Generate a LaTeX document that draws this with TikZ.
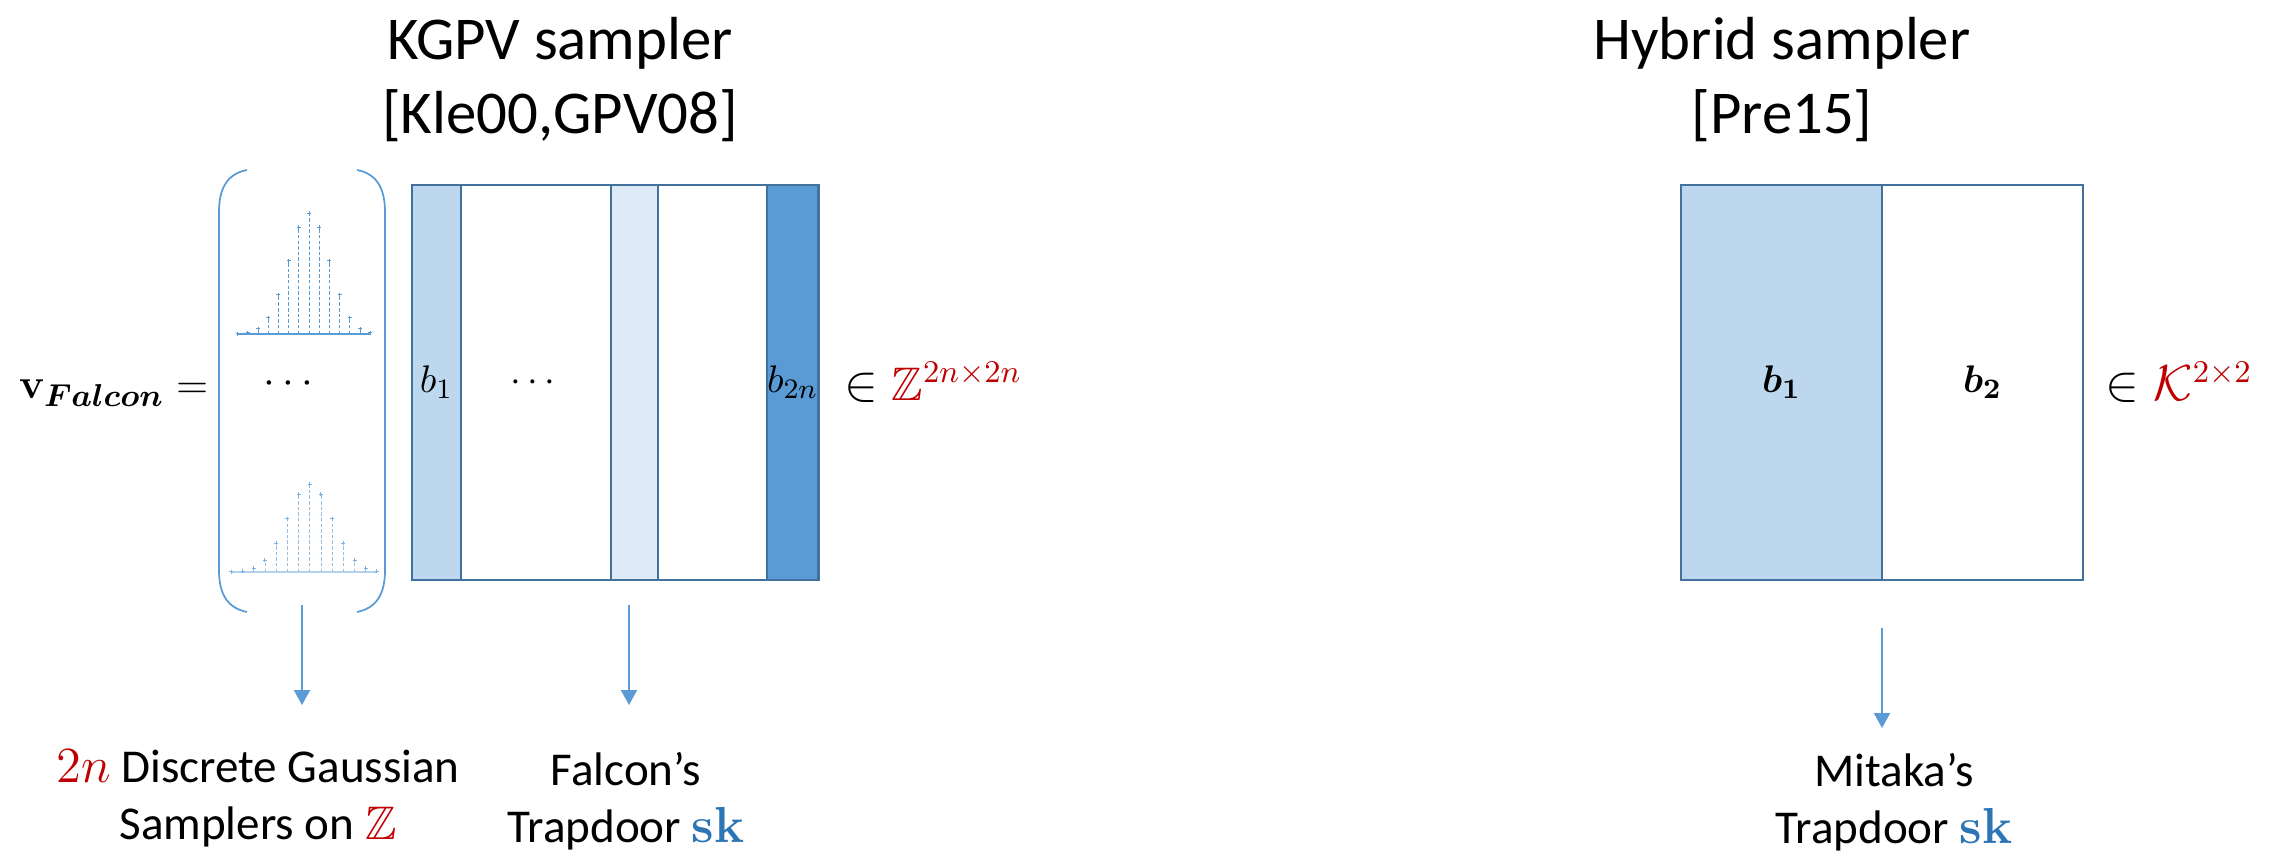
\documentclass[tikz,border=0pt]{standalone}
\usepackage{amsmath,amssymb}
\usepackage[no-math]{fontspec}
\setmainfont{Carlito}
\usepackage{tikz}
\usetikzlibrary{arrows.meta,positioning}
\definecolor{mblue}{HTML}{5B9BD5}
\definecolor{lblue}{HTML}{BDD7EE}
\definecolor{xblue}{HTML}{DEEBF7}
\definecolor{oblue}{HTML}{41719C}
\definecolor{dred}{HTML}{C00000}
\definecolor{skblue}{HTML}{2E75B6}
\tikzset{
  col/.style={rectangle,draw=oblue,line width=0.8pt,minimum height=3.95cm,inner sep=0pt,outer sep=0pt,font=\fontsize{11}{13}\selectfont},
  ttl/.style={align=center,inner sep=0pt,font=\fontsize{17.3}{20.8}\selectfont},
  lbl/.style={align=center,inner sep=0pt,font=\fontsize{13.4}{16.2}\selectfont},
  arr/.style={-{Triangle[length=1.5mm,width=1.6mm]},mblue,line width=0.6pt},
  brk/.style={mblue,line width=0.5pt},
  stem/.style={line width=0.2pt,dash pattern=on 1pt off 0.6pt},
  tick/.style={line width=0.25pt},
}

\begin{document}
\begin{tikzpicture}
  \useasboundingbox (0,0) rectangle (22.82,-8.53);
  % titles
  \node[ttl,anchor=north] (kgpv) at (5.60,-0.17) {KGPV sampler\\{[Kle00,GPV08]}};
  \node[ttl,anchor=north] (hyb) at (17.82,-0.17) {Hybrid sampler\\{[Pre15]}};
  % vector of samplers
  \node[anchor=east,inner sep=0pt,font=\fontsize{12.6}{15}\selectfont] (vf) at (2.09,-3.93) {$\mathbf{v}_{\boldsymbol{Falcon}}=$};
  \draw[brk] (2.47,-1.70) .. controls (2.26,-1.74) and (2.19,-1.90) .. (2.19,-2.12) -- (2.19,-5.70) .. controls (2.19,-5.95) and (2.28,-6.08) .. (2.47,-6.12);
  \draw[brk] (3.57,-1.70) .. controls (3.78,-1.74) and (3.85,-1.90) .. (3.85,-2.12) -- (3.85,-5.70) .. controls (3.85,-5.95) and (3.76,-6.08) .. (3.57,-6.12);
  \draw[mblue,line width=0.4pt] (2.37,-3.34) -- (3.71,-3.34);
  \foreach \k in {-7,...,6} {
    \pgfmathsetmacro\h{1.21*exp(-(\k)*(\k)/8)}
    \draw[stem,mblue] ({3.09+(\k)*0.102},-3.34) -- ++(0,\h);
    \draw[tick,mblue] ({3.07+(\k)*0.102},{-3.34+\h}) -- ++(0.04,0);
    \draw[tick,mblue] ({3.09+(\k)*0.102},{-3.36+\h}) -- ++(0,0.04);
  }
  \node[inner sep=0pt,font=\fontsize{13}{15}\selectfont] (gdots) at (2.92,-3.84) {$\cdots$};
  \draw[mblue!45,line width=0.4pt] (2.31,-5.72) -- (3.77,-5.72);
  \foreach \k in {-7,...,6} {
    \pgfmathsetmacro\h{0.88*exp(-(\k)*(\k)/8)}
    \draw[stem,mblue!65] ({3.097+(\k)*0.112},-5.72) -- ++(0,\h);
    \draw[tick,mblue!80] ({3.077+(\k)*0.112},{-5.72+\h}) -- ++(0.04,0);
    \draw[tick,mblue!80] ({3.097+(\k)*0.112},{-5.74+\h}) -- ++(0,0.04);
  }
  % KGPV basis
  \node[col,fill=lblue,minimum width=0.49cm] (c1) at (4.365,-3.825) {$b_1$};
  \node[col,minimum width=1.50cm,right=0pt of c1] (c2) {$\cdots$};
  \node[col,fill=xblue,minimum width=0.47cm,right=0pt of c2] (c3) {};
  \node[col,minimum width=1.09cm,right=0pt of c3] (c4) {};
  \node[col,fill=mblue,minimum width=0.48cm,right=0pt of c4] (c5) {$b_{2n}$};
  \node[right=0.25cm of c5,inner sep=0pt,font=\fontsize{13.4}{16}\selectfont] (zset) {$\in \textcolor{dred}{\mathbb{Z}^{2n\times 2n}}$};
  % hybrid basis
  \node[col,fill=lblue,minimum width=2.01cm] (r1) at (17.815,-3.825) {$\boldsymbol{b_1}$};
  \node[col,minimum width=2.01cm,right=0pt of r1] (r2) {$\boldsymbol{b_2}$};
  \node[right=0.22cm of r2,inner sep=0pt,font=\fontsize{13.4}{16}\selectfont] (kset) {$\in \textcolor{dred}{\mathcal{K}^{2\times 2}}$};
  % arrows and captions
  \coordinate (gs) at (3.02,-6.05);
  \coordinate (gt) at (3.02,-7.05);
  \coordinate (fs) at (6.29,-6.05);
  \coordinate (ft) at (6.29,-7.05);
  \coordinate (ms) at (18.82,-6.28);
  \coordinate (mt) at (18.82,-7.28);
  \draw[arr] (gs) -- (gt);
  \draw[arr] (fs) -- (ft);
  \draw[arr] (ms) -- (mt);
  \node[lbl,anchor=north] (glbl) at (2.58,-7.49) {$\textcolor{dred}{2n}$ Discrete Gaussian\\Samplers on $\textcolor{dred}{\mathbb{Z}}$};
  \node[lbl,anchor=north] (flbl) at (6.26,-7.52) {Falcon’s\\Trapdoor $\textcolor{skblue}{\mathbf{sk}}$};
  \node[lbl,anchor=north] (mlbl) at (18.94,-7.53) {Mitaka’s\\Trapdoor $\textcolor{skblue}{\mathbf{sk}}$};
\end{tikzpicture}
\end{document}
